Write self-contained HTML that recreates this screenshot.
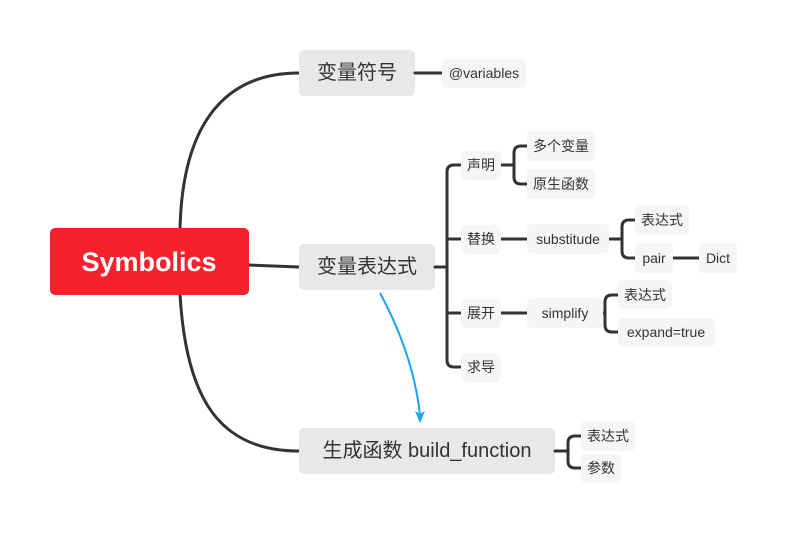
<!DOCTYPE html>
<html><head><meta charset="utf-8"><style>
html,body{margin:0;padding:0;background:#fff;}
svg{display:block;}
text{font-family:"Liberation Sans","Noto Sans CJK SC",sans-serif;fill:#333;dominant-baseline:central;text-anchor:middle;}
.l1{font-size:20px;}
.l2{font-size:14px;}
.g1{fill:#e8e8e8;}
.g2{fill:#f5f5f5;}
.c{fill:none;stroke:#333;stroke-width:3;stroke-linecap:round;}
</style></head><body>
<svg width="788" height="534" viewBox="0 0 788 534" xmlns="http://www.w3.org/2000/svg">
<!-- root connectors -->
<path class="c" d="M180,230 C182,130 220,73 299,73"/>
<path class="c" d="M180,294 C186,400 220,451 299,451"/>
<path class="c" d="M248,265 L299,267"/>
<!-- level 1 -->
<rect x="50" y="228" width="199" height="67" rx="5" fill="#f5212d"/>
<text x="149" y="262" style="font-size:27px;font-weight:bold;fill:#fff">Symbolics</text>
<rect class="g1" x="299" y="50" width="116" height="46" rx="5"/>
<text class="l1" x="357" y="73">变量符号</text>
<rect class="g1" x="299" y="244" width="136" height="46" rx="5"/>
<text class="l1" x="367" y="267">变量表达式</text>
<rect class="g1" x="299" y="428" width="256" height="46" rx="5"/>
<text class="l1" x="427" y="451">生成函数 build_function</text>
<!-- connectors level2 -->
<path class="c" d="M415,73 H442"/>
<path class="c" d="M435,267 H447"/>
<path class="c" d="M461,165 H454 Q447,165 447,172 V360 Q447,367 454,367 H461"/>
<path class="c" d="M447,239 H461 M447,313 H461"/>
<path class="c" d="M501,165 H514"/>
<path class="c" d="M527,146 H521 Q514,146 514,153 V177 Q514,184 521,184 H527"/>
<path class="c" d="M501,239 H527"/>
<path class="c" d="M609,239 H622"/>
<path class="c" d="M635,220 H629 Q622,220 622,227 V251 Q622,258 629,258 H635"/>
<path class="c" d="M673,258 H699"/>
<path class="c" d="M501,313 H527"/>
<path class="c" d="M603,313 H605"/>
<path class="c" d="M618,295 H612 Q605,295 605,302 V325 Q605,332 612,332 H618"/>
<path class="c" d="M555,451 H568"/>
<path class="c" d="M581,436 H575 Q568,436 568,443 V461 Q568,468 575,468 H581"/>
<!-- level 2 nodes -->
<rect class="g2" x="442" y="59" width="84" height="29" rx="5"/><text class="l2" x="484" y="73">@variables</text>
<rect class="g2" x="461" y="151" width="40" height="29" rx="5"/><text class="l2" x="481" y="165">声明</text>
<rect class="g2" x="461" y="225" width="40" height="29" rx="5"/><text class="l2" x="481" y="239">替换</text>
<rect class="g2" x="461" y="299" width="40" height="29" rx="5"/><text class="l2" x="481" y="313">展开</text>
<rect class="g2" x="461" y="353" width="40" height="29" rx="5"/><text class="l2" x="481" y="367">求导</text>
<rect class="g2" x="527" y="131" width="68" height="30" rx="5"/><text class="l2" x="561" y="146">多个变量</text>
<rect class="g2" x="527" y="169" width="68" height="30" rx="5"/><text class="l2" x="561" y="184">原生函数</text>
<rect class="g2" x="527" y="224" width="82" height="30" rx="5"/><text class="l2" x="568" y="239">substitude</text>
<rect class="g2" x="635" y="205" width="54" height="30" rx="5"/><text class="l2" x="662" y="220">表达式</text>
<rect class="g2" x="635" y="243" width="38" height="30" rx="5"/><text class="l2" x="654" y="258">pair</text>
<rect class="g2" x="699" y="243" width="38" height="30" rx="5"/><text class="l2" x="718" y="258">Dict</text>
<rect class="g2" x="527" y="298" width="76" height="30" rx="5"/><text class="l2" x="565" y="313">simplify</text>
<rect class="g2" x="618" y="280" width="54" height="29" rx="5"/><text class="l2" x="645" y="295">表达式</text>
<rect class="g2" x="618" y="318" width="97" height="29" rx="5"/><text class="l2" x="666" y="332">expand=true</text>
<rect class="g2" x="581" y="421" width="54" height="30" rx="5"/><text class="l2" x="608" y="436">表达式</text>
<rect class="g2" x="581" y="454" width="40" height="29" rx="5"/><text class="l2" x="601" y="468">参数</text>
<!-- blue arrow -->
<path d="M380,293 C400,330 415,370 420,415" fill="none" stroke="#1aa3ef" stroke-width="2"/>
<path d="M415,411 L420,423 L425,411 L420,414 Z" fill="#1aa3ef"/>
</svg>
</body></html>
